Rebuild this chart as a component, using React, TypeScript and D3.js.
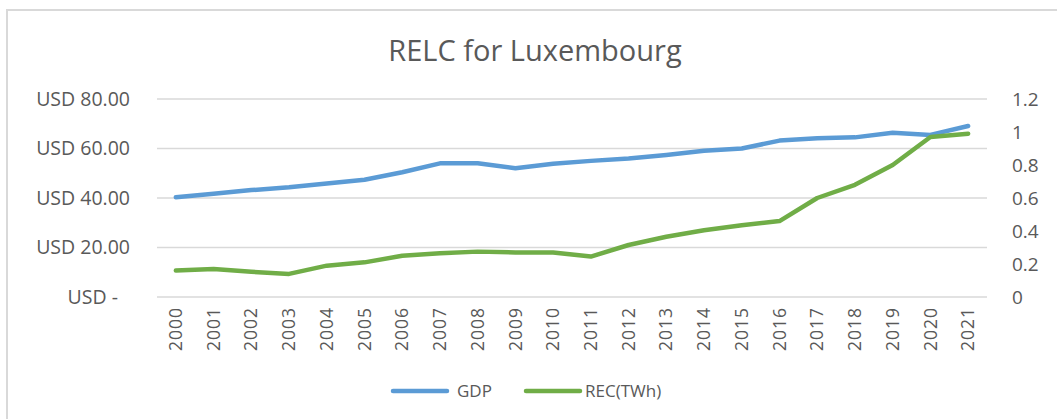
import { useEffect, useRef } from "react";
import * as d3 from "d3";

const YEARS = [
  "2000", "2001", "2002", "2003", "2004", "2005", "2006", "2007", "2008", "2009", "2010",
  "2011", "2012", "2013", "2014", "2015", "2016", "2017", "2018", "2019", "2020", "2021",
];
const GDP = [
  40.3, 41.7, 43.2, 44.3, 45.9, 47.4, 50.4, 54.0, 54.0, 52.0, 53.8,
  55.0, 56.0, 57.4, 59.1, 60.0, 63.2, 64.1, 64.5, 66.4, 65.5, 69.1,
];
const REC = [
  0.16, 0.17, 0.153, 0.14, 0.19, 0.21, 0.25, 0.265, 0.275, 0.27, 0.27,
  0.245, 0.315, 0.365, 0.405, 0.435, 0.46, 0.6, 0.68, 0.8, 0.97, 0.99,
];
const LEFT_TICKS = [0, 20, 40, 60, 80];
const RIGHT_TICKS = [0, 0.2, 0.4, 0.6, 0.8, 1, 1.2];
const SERIES = [
  { name: "GDP", color: "#5b9bd5" },
  { name: "REC(TWh)", color: "#70ad47" },
];

const WIDTH = 1057;
const HEIGHT = 419;
const FONT = "'Open Sans', sans-serif";
const TEXT = "#595959";

export default function App() {
  const svgRef = useRef<SVGSVGElement>(null);

  useEffect(() => {
    const svgEl = svgRef.current;
    if (!svgEl) return;
    const svg = d3.select(svgEl);
    svg.selectAll("*").remove();

    const margin = { top: 99, right: 70, bottom: 122, left: 157 };
    const x = d3
      .scaleBand()
      .domain(YEARS)
      .range([margin.left, WIDTH - margin.right]);
    const yLeft = d3.scaleLinear().domain([0, 80]).range([HEIGHT - margin.bottom, margin.top]);
    const yRight = d3.scaleLinear().domain([0, 1.2]).range([HEIGHT - margin.bottom, margin.top]);

    // chart frame
    svg
      .append("rect")
      .attr("x", 7)
      .attr("y", 10)
      .attr("width", WIDTH + 10)
      .attr("height", HEIGHT + 10)
      .attr("fill", "white")
      .attr("stroke", "#d9d9d9")
      .attr("stroke-width", 2);

    svg
      .append("text")
      .attr("x", 535)
      .attr("y", 61)
      .attr("text-anchor", "middle")
      .attr("font-family", FONT)
      .attr("font-size", 29)
      .attr("fill", TEXT)
      .text("RELC for Luxembourg");

    // gridlines
    svg
      .append("g")
      .selectAll("line")
      .data(LEFT_TICKS)
      .join("line")
      .attr("x1", margin.left)
      .attr("x2", WIDTH - margin.right)
      .attr("y1", (d) => yLeft(d))
      .attr("y2", (d) => yLeft(d))
      .attr("stroke", "#d9d9d9")
      .attr("stroke-width", 1.5);

    const fmtLeft = (d: d3.NumberValue) => (+d === 0 ? "USD -" : `USD ${d3.format(".2f")(+d)}`);
    const left = svg
      .append("g")
      .attr("transform", `translate(${margin.left - 27},0)`)
      .call(d3.axisLeft(yLeft).tickValues(LEFT_TICKS).tickFormat(fmtLeft).tickSize(0).tickPadding(0));
    left.select(".domain").remove();
    left
      .selectAll("text")
      .attr("font-family", FONT)
      .attr("font-size", 19.5)
      .attr("fill", TEXT)
      .attr("dx", (d) => (+(d as number) === 0 ? -12 : 0));

    const right = svg
      .append("g")
      .attr("transform", `translate(${WIDTH - margin.right + 25},0)`)
      .call(d3.axisRight(yRight).tickValues(RIGHT_TICKS).tickFormat(d3.format("~g")).tickSize(0).tickPadding(0));
    right.select(".domain").remove();
    right.selectAll("text").attr("font-family", FONT).attr("font-size", 19).attr("fill", TEXT);

    const bottom = svg
      .append("g")
      .attr("transform", `translate(0,${HEIGHT - margin.bottom + 10})`)
      .call(d3.axisBottom(x).tickSize(0).tickPadding(0));
    bottom.select(".domain").remove();
    bottom
      .selectAll("text")
      .attr("font-family", FONT)
      .attr("font-size", 17.5)
      .attr("fill", TEXT)
      .attr("transform", "rotate(-90)")
      .attr("text-anchor", "end")
      .attr("x", 0)
      .attr("y", 0)
      .attr("dy", "0.35em")
      .attr("letter-spacing", 1);

    const cx = (d: string) => (x(d) as number) + x.bandwidth() / 2;
    const gdpLine = d3
      .line<number>()
      .x((_, i) => cx(YEARS[i]))
      .y((d) => yLeft(d));
    const recLine = d3
      .line<number>()
      .x((_, i) => cx(YEARS[i]))
      .y((d) => yRight(d));

    svg
      .append("path")
      .attr("d", gdpLine(GDP))
      .attr("fill", "none")
      .attr("stroke", SERIES[0].color)
      .attr("stroke-width", 4.5)
      .attr("stroke-linecap", "round")
      .attr("stroke-linejoin", "round");
    svg
      .append("path")
      .attr("d", recLine(REC))
      .attr("fill", "none")
      .attr("stroke", SERIES[1].color)
      .attr("stroke-width", 4.5)
      .attr("stroke-linecap", "round")
      .attr("stroke-linejoin", "round");

    // legend
    const legendX = [393, 526];
    const legend = svg
      .append("g")
      .selectAll("g")
      .data(SERIES)
      .join("g")
      .attr("transform", (_, i) => `translate(${legendX[i]},391)`);
    legend
      .append("line")
      .attr("x1", 0)
      .attr("x2", 54)
      .attr("stroke", (d) => d.color)
      .attr("stroke-width", 4.5)
      .attr("stroke-linecap", "round");
    legend
      .append("text")
      .attr("x", (_, i) => (i === 0 ? 64 : 59))
      .attr("dy", "0.35em")
      .attr("font-family", FONT)
      .attr("font-size", 17)
      .attr("fill", TEXT)
      .text((d) => d.name);
  }, []);

  return (
    <svg
      ref={svgRef}
      width={WIDTH}
      height={HEIGHT}
      style={{ position: "absolute", left: 0, top: 0, background: "white" }}
    />
  );
}
